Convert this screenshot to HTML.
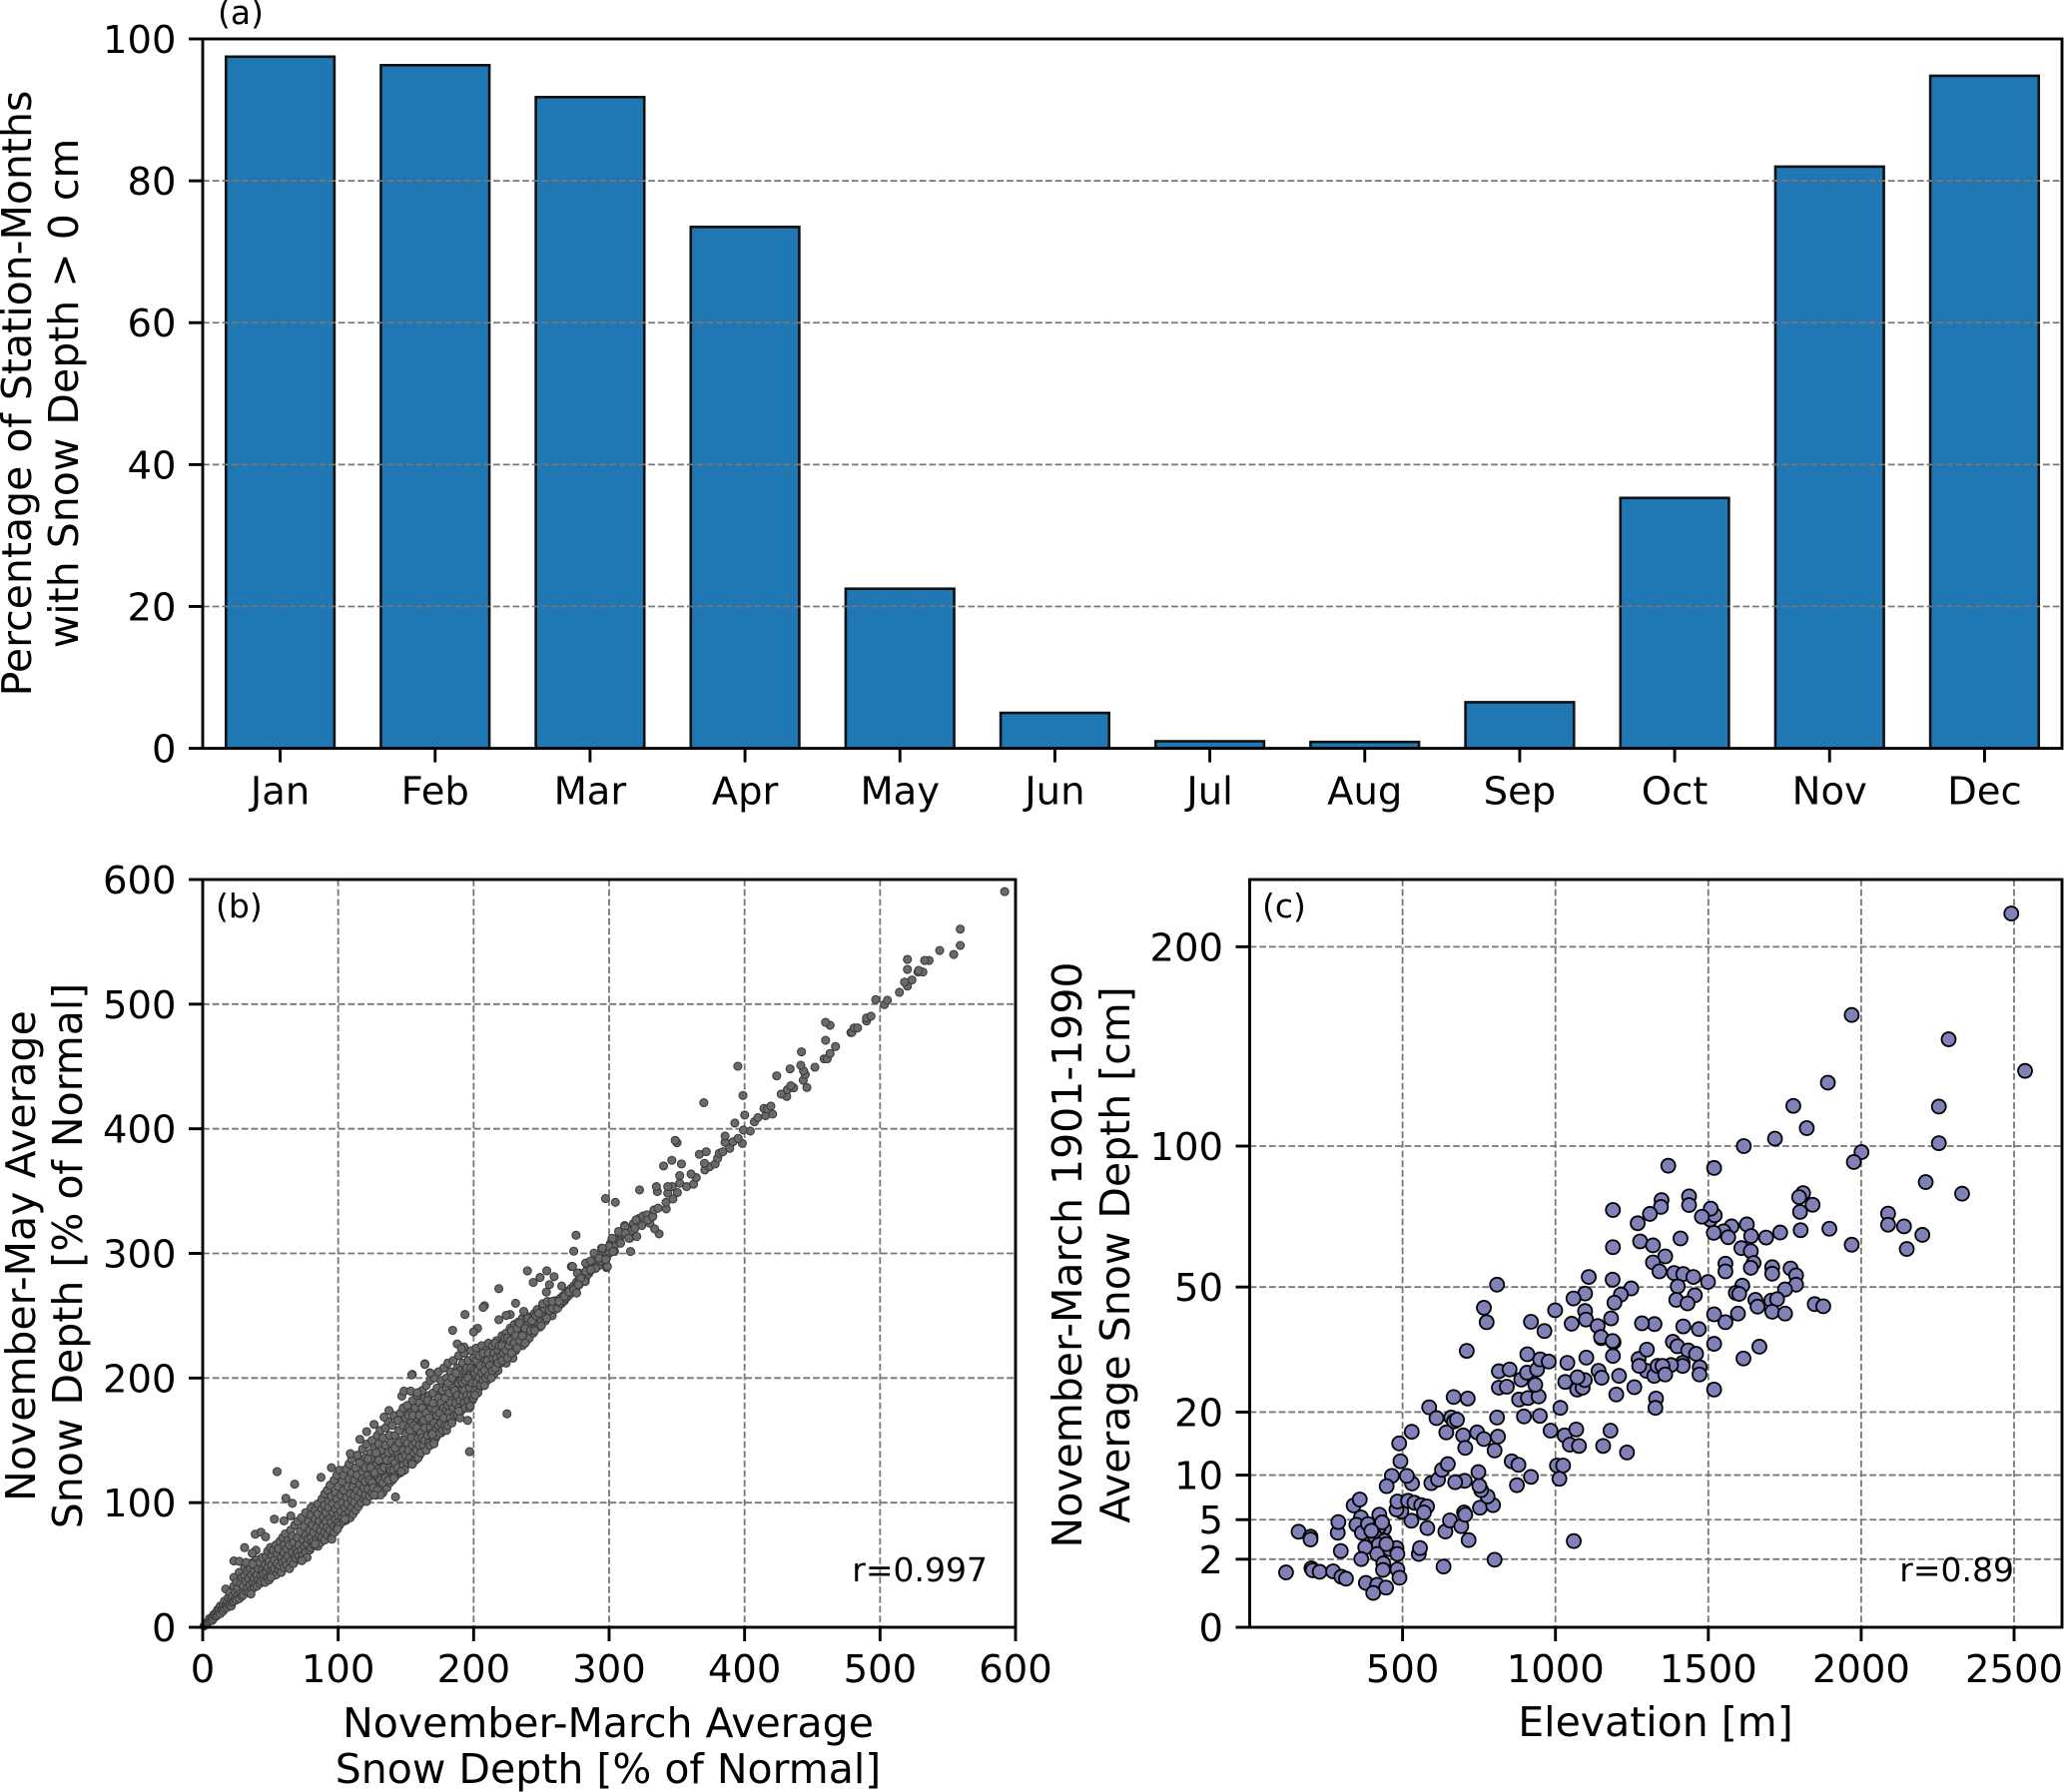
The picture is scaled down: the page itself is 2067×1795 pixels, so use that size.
<!DOCTYPE html>
<html lang="en">
<head>
<meta charset="utf-8">
<title>Snow depth statistics</title>
<style>
html,body{margin:0;padding:0;background:#fff}
svg{display:block}
text{font-family:"DejaVu Sans","Liberation Sans",sans-serif;fill:#000}
.axis-title{font-size:41px}
.tick-label{font-size:38.5px}
.note{font-size:33px}
</style>
</head>
<body>
<svg id="figure" xmlns="http://www.w3.org/2000/svg" width="2067" height="1795" viewBox="0 0 2067 1795">
<rect x="0" y="0" width="2067" height="1795" fill="#fff"/>
<g id="panelA"></g>
<g id="panelB"></g>
<g id="panelC"></g>
<text class="note" x="218" y="24">(a)</text>
<text class="note" x="216" y="919">(b)</text>
<text class="note" x="1264" y="919">(c)</text>
<text class="note" x="989" y="1584" text-anchor="end">r=0.997</text>
<text class="note" x="2017" y="1584" text-anchor="end">r=0.89</text>
<text class="axis-title" text-anchor="middle" transform="translate(31 394) rotate(-90)">Percentage of Station-Months</text>
<text class="axis-title" text-anchor="middle" transform="translate(78 394) rotate(-90)">with Snow Depth &gt; 0 cm</text>
<text class="axis-title" text-anchor="middle" transform="translate(35 1258) rotate(-90)">November-May Average</text>
<text class="axis-title" text-anchor="middle" transform="translate(82 1258) rotate(-90)">Snow Depth [% of Normal]</text>
<text class="axis-title" text-anchor="middle" x="609" y="1740">November-March Average</text>
<text class="axis-title" text-anchor="middle" x="609" y="1786">Snow Depth [% of Normal]</text>
<text class="axis-title" text-anchor="middle" transform="translate(1083 1257) rotate(-90)">November-March 1901-1990</text>
<text class="axis-title" text-anchor="middle" transform="translate(1131 1257) rotate(-90)">Average Snow Depth [cm]</text>
<text class="axis-title" text-anchor="middle" x="1658" y="1739">Elevation [m]</text>
</svg>
<script>
const monthLabels = ["Jan","Feb","Mar","Apr","May","Jun","Jul","Aug","Sep","Oct","Nov","Dec"];
const monthPercents = [97.5,96.3,91.8,73.5,22.5,5,1,0.9,6.5,35.3,82,94.8];
const panelAYTicks = [0,20,40,60,80,100];
const panelBTicks = [0,100,200,300,400,500,600];
const panelCXTicks = [500,1000,1500,2000,2500];
const panelCYTicks = [0,2,5,10,20,50,100,200];

const depthsNearOrigin = [[1,1],[2,2],[3,3.5],[4,4],[5,5],[5,7],[6,6],[7,8],[7,5.5],[8,10],[8,7],[9,9],[10,9],[10,12],[11,14],[11,10],[12,12],[12,15],[13,11],[13,17],[14,14],[15,13],[15,18],[16,15],[16,21],[17,17],[17,30.7],[18,16],[18,20],[19,24],[19,18],[20,19],[20,28],[21,17],[21,22],[22,25],[22,20],[23,33],[23,21],[23,40],[24,23],[24,28],[25,22],[25,36],[26,26],[26,31],[27,23],[27,44],[28,27],[28,35],[29,25],[29,40],[30,26],[30,33],[31,41],[31,48],[32,29],[32,37],[33,45],[33,31],[34,51],[34,28],[34,39],[35,34],[35,47],[36,30],[36,42],[37,36],[37,52],[38,32],[38,45],[38,39],[39,35],[39,50],[40,33],[40,42],[40,54]];
const depthsLow = [[41,38],[41,47],[42,35],[42,52],[43,41],[43,37],[44,46],[44,56],[45,39],[45,43],[46,36],[46,50],[47,44],[47,57],[48,40],[48,61],[48,48],[49,38],[49,53],[50,45],[50,42],[50,64],[51,50],[51,58],[52,44],[52,62],[53,47],[53,54],[54,42],[54,66],[55,51],[55,59],[56,46],[56,63],[57,49],[57,69],[58,56],[58,44],[59,52],[59,72],[60,48],[60,60],[60,66],[61,54],[61,75],[62,50],[62,63],[63,57],[63,70],[64,47],[64,66],[65,53],[65,78],[66,60],[66,73],[67,51],[67,68],[68,57],[68,82],[69,63],[69,55],[70,60],[70,72],[70,85],[71,57],[71,66],[72,77],[72,54],[73,62],[73,88],[74,70],[74,58],[75,81],[75,65],[76,60],[76,74],[76,92],[77,67],[77,56],[78,85],[78,71],[79,62],[79,78],[80,64],[80,90],[80,96],[80,72]];
const depthsMid = [[81,82],[81,68],[82,66],[82,76],[83,94],[83,87],[84,70],[84,80],[85,65],[85,99],[85,91],[86,74],[86,85],[87,78],[87,68],[88,103],[88,95],[88,72],[89,82],[89,88],[90,76],[90,107],[90,98],[90,70],[91,85],[91,92],[92,74],[92,80],[92,110],[93,101],[93,96],[94,78],[94,88],[94,114],[95,84],[95,72],[95,105],[96,92],[96,99],[97,81],[97,118],[97,76],[98,87],[98,108],[98,95],[99,79],[99,103],[99,122],[100,90],[100,84],[100,113],[100,98],[101,126],[101,82],[102,106],[102,93],[103,88],[103,117],[103,100],[104,85],[104,110],[104,122],[105,96],[105,90],[106,104],[106,127],[106,86],[107,113],[107,99],[108,93],[108,119],[108,131],[109,107],[109,88],[110,102],[110,124],[110,96],[110,135],[111,113],[111,91],[112,118],[112,106],[112,100],[113,128],[113,94],[114,110],[114,122],[114,138],[115,104],[115,97],[116,115],[116,132],[117,108],[117,100],[118,125],[118,119],[118,143],[119,112],[119,103],[120,136],[120,106],[120,128],[120,117]];
const depthsUpperMid = [[121,147],[121,101],[122,122],[122,111],[123,132],[123,105],[124,140],[124,116],[125,126],[125,108],[125,150],[126,120],[126,136],[127,112],[127,144],[128,130],[128,106],[128,123],[129,116],[129,154],[129,138],[130,110],[130,127],[130,147],[130,120],[131,134],[131,158],[132,114],[132,142],[133,125],[133,108],[133,152],[134,118],[134,136],[135,160],[135,130],[135,146],[136,112],[136,122],[137,140],[137,165],[137,127],[138,116],[138,154],[139,134],[139,120],[139,148],[140,162],[140,126],[140,142],[140,118],[141,136],[141,170],[142,122],[142,154],[143,146],[143,130],[144,166],[144,140],[145,125],[145,158],[146,172],[146,134],[146,150],[147,128],[147,144],[148,162],[148,176],[149,138],[149,132],[150,155],[150,168],[150,146],[150,130],[151,178],[151,140],[152,160],[152,134],[153,150],[153,172],[154,143],[154,165],[155,136],[155,182],[156,156],[156,148],[157,176],[157,140],[158,168],[158,186],[158,152],[159,144],[159,162],[160,180],[160,138],[160,157]];
const depthsHigh = [[161,172],[161,148],[162,190],[162,165],[163,142],[163,155],[164,184],[164,176],[165,150],[165,194],[165,162],[166,170],[166,146],[167,158],[167,186],[168,153],[168,178],[168,198],[169,166],[169,149],[170,188],[170,160],[170,172],[170,155],[171,200],[171,180],[172,152],[172,166],[173,192],[173,158],[174,176],[174,205],[175,163],[175,186],[176,156],[176,198],[177,170],[177,181],[178,160],[178,208],[179,192],[179,174],[180,165],[180,186],[180,200],[181,170],[181,212],[182,180],[182,164],[183,196],[183,205],[184,174],[184,188],[185,168],[185,214],[186,182],[186,200],[187,172],[187,193],[188,208],[188,177],[189,186],[189,218],[190,198],[190,174],[190,206],[191,182],[191,190],[192,212],[192,178],[193,200],[193,220],[194,186],[194,206],[195,180],[195,194],[196,214],[196,190],[197,183],[197,202],[198,222],[198,196],[199,208],[199,187],[200,200],[200,216],[200,190],[201,194],[202,224],[202,206],[203,198],[203,212],[204,192],[205,218],[205,203],[206,196],[206,226],[207,208],[208,200],[208,214],[209,222],[210,205],[210,198],[211,228],[211,212],[212,204],[213,218],[213,208],[214,226],[215,212],[215,203],[216,220],[217,210],[217,230],[218,206],[219,216],[220,224],[220,212],[221,234],[222,214],[222,228],[223,220],[224,236],[224,212],[225,226],[226,218],[227,240],[227,222],[228,232],[229,226],[229,216],[230,243],[230,236],[231,222],[232,230],[233,245],[233,226],[234,238],[235,232],[236,248],[236,226],[237,240],[238,234],[239,250],[239,230],[240,243],[240,236],[241,232],[242,248],[243,240],[244,236],[245,252],[245,244],[246,240],[247,255],[248,248],[248,243],[249,241],[250,253],[250,246],[251,258],[252,250],[253,246],[254,255],[255,250],[256,260],[257,254],[258,250],[259,258],[260,262],[260,255],[261,258],[262,262],[263,258],[264,264],[265,260],[266,266],[267,262],[268,268],[269,265],[270,270],[271,268],[272,272],[273,270],[274,274],[275,272],[276,277],[277,275],[278,279],[279,277],[280,282],[281,280],[282,284],[284,288],[285,284],[287,291],[289,294],[291,293],[293,298]];
const depthsBandInfillLower = [[122,135],[123,118],[124,128],[125,116],[126,112],[127,124],[128,140],[129,110],[130,134],[131,118],[132,126],[133,116],[134,128],[135,120],[136,134],[137,118],[138,128],[139,126],[140,134],[141,126],[142,132],[142,144],[143,122],[144,128],[145,136],[145,148],[146,124],[147,136],[148,130],[148,142],[149,150],[149,126],[150,138],[151,132],[151,148],[152,142],[152,170],[153,136],[153,158],[154,132],[154,152],[155,146],[155,170],[156,140],[156,162],[157,134],[157,148],[158,142],[158,160],[159,136],[159,152],[160,146],[160,170]];
const depthsBandInfillMiddle = [[161,140],[161,156],[162,152],[162,176],[163,146],[163,166],[164,150],[164,160],[165,142],[165,172],[166,154],[166,182],[167,148],[167,168],[168,146],[168,160],[169,156],[169,176],[170,152],[170,180],[171,164],[171,150],[172,174],[172,158],[173,154],[173,170],[174,162],[174,184],[175,156],[175,172],[176,164],[176,180],[177,158],[177,190],[178,168],[178,176],[179,162],[179,184],[180,158],[180,174],[180,192],[181,162],[181,178],[181,196],[182,172],[182,188],[183,168],[183,180],[184,164],[184,200],[185,176],[185,192],[186,170],[186,190],[187,180],[187,204],[188,170],[188,186],[189,176],[189,196],[190,182],[190,168],[191,198],[191,174],[192,186],[192,196],[193,180],[193,190],[194,176],[194,198],[195,186],[195,208],[196,182],[196,200],[197,192],[197,176],[198,186],[198,208],[199,182],[199,196],[200,184],[200,206]];
const depthsBandInfillUpper = [[201,190],[201,204],[202,196],[202,214],[203,188],[203,206],[204,200],[204,218],[205,194],[205,210],[206,204],[207,198],[207,220],[208,194],[208,206],[209,200],[209,212],[210,214],[211,202],[211,220],[212,210],[213,200],[214,206],[214,216],[215,220],[216,208],[216,228],[217,216],[218,222],[218,212],[219,226],[220,218],[221,214],[221,226],[222,220],[223,232],[224,222],[225,216],[225,232],[226,226],[227,230],[228,220],[228,238],[230,228],[231,234],[232,240],[232,224],[234,230],[234,244],[236,234],[238,240],[238,228],[240,248],[242,238],[243,246],[245,238],[246,250],[248,252],[250,242],[252,256],[254,248],[256,254],[258,256],[262,256],[264,260],[266,262],[268,264],[270,266],[272,268],[274,270],[276,273],[278,275],[280,278],[283,281],[286,286],[288,288],[290,291],[292,290],[294,294],[296,296],[298,300],[300,300],[301,308],[304,306],[306,312],[308,313],[310,318],[313,320],[316,318],[318,324],[322,328],[325,330],[328,331]];
const depthsUpperTail = [[298,296],[300,305.6],[294.5,304.2],[302.1,311.7],[304,301.6],[298.1,288.7],[288.7,287.7],[283.6,292.2],[277.8,284.2],[272.2,289.5],[282.4,277.5],[315.8,301.6],[307.7,309.6],[315.3,312.2],[312,316.2],[307.7,316.2],[311.5,322.4],[319.9,326.9],[320.4,313.6],[319.1,320.2],[324.2,322.4],[336.9,315.7],[333.6,319.7],[330.1,324.2],[328.5,326.9],[332.3,329.6],[333.1,334.9],[336.2,336.3],[342.2,335.7],[342,341],[347.1,343.7],[343.3,348.3],[350.4,348.8],[346.6,353.6],[343.3,353.6],[335.6,349.6],[334.9,353.6],[322.5,350.9],[352.1,356.3],[357.2,353.6],[362.3,355.5],[352.1,362.4],[364.3,360.8],[360.5,363.7],[353.4,371.8],[340.2,370.2],[346.3,374.7],[370.7,367],[374.2,369.6],[378.3,371.8],[370.4,372.3],[380.1,376.3],[381.3,380.3],[366.6,379.5],[371.7,381.6],[350.1,388.8],[348.8,390.7],[389,384.3],[383.9,381.6],[385.6,389.1],[385.6,394.2],[398.3,388.3],[391.5,389.6],[395.3,392.3],[399.1,399],[404.2,398.2],[407.2,405.6],[409.8,408.9],[415.6,410.5],[420.7,411.8],[414.3,416.3],[416.9,415.8],[419.4,418.2],[392.8,404.6],[400.1,411],[369.9,420.9],[398.8,426.7],[395,450.2],[431.1,425.9],[427,427.8],[431.6,431.3],[436.2,432.9],[434.1,434.5],[423.7,442.5],[433.6,448.1],[451.9,449.4],[446,433.1],[443.3,439],[444.8,443.5],[443.5,446.5],[441.5,451],[442,461.7],[458.7,456.1],[461,456.1],[463.1,460.4],[467.1,466],[459.8,471],[463.1,483],[459.8,485.4],[478.5,477.2],[479.3,477.4],[480.8,480.9],[483.4,480.9],[490,486.5],[490,488.9],[493.3,490.3],[496.8,503.6],[503.2,499.6],[505.4,503.1],[514.3,509.5],[520.2,514.5],[518.1,517.7],[523.5,519.4],[528,525.8],[531.6,525.8],[528.5,527.1],[536.2,535.1],[532.9,535.1],[520.2,527.9],[520.2,535.9],[544,543.1],[554.4,539.9],[559.2,547.1],[559.2,560.2],[592,590.3]];
const depthsOutliers = [[224.6,171.3],[197,140.9],[195.6,166],[197.4,177.5],[142.3,104.6],[54.9,124.9],[67.9,114.8],[61.4,103.5],[66.2,99.5],[87.3,120.3],[52.9,86.8],[38.8,74.7],[43,76.3],[46.4,72.6],[30.9,63.9],[39.3,61.8],[36.5,59.4],[23,53.2],[27,52.9],[32,52],[36.8,50.7],[95,128],[65,89.4],[60,85.4],[126.5,162.8],[121,157],[116,150.8],[109,139.3],[147,185.5],[148.6,189.5],[153.5,189.5],[158.4,188.2],[154.7,202.9],[164,211.4],[167.7,204.2],[133.9,168.7],[137.5,174],[131.4,106.2],[126.5,106.2],[105,86.8],[99.5,78.8],[95.3,70.7],[83,66.7],[73.2,53.4],[50.3,40],[35.6,26.7],[146.6,124.9],[141.2,119.6],[154.7,130.8],[170.7,147.3],[169.5,154.8],[189,173.5],[200.9,186.3],[297.4,344],[304.6,341],[275.6,314.6],[273.9,301.8],[239.7,286],[254,286],[249,280.7],[244,276.7],[259.4,281.3],[256,274.9],[253.7,269],[265,273.8],[218.6,271.7],[208,258],[207,256.7],[193.6,251],[218.6,246.8],[184.5,238.3],[202.9,239.9],[200,237],[187.9,227.4],[192.8,225],[191,223.6],[164,211],[154.3,202.5],[168,203.9],[231,260],[227,251],[224,250.3],[237,253.5],[251,259.6],[254.5,261.5],[258,261.5],[263,261.5],[267,265.5],[270.4,269],[274,270.9],[276,268.2],[273,289.5],[276.6,284.2],[282.7,292.2],[282,277.5],[286.4,294],[288.9,300.2],[290,288],[292.5,296.2],[295,304.2],[298.7,289.5],[297.5,295],[302.4,312.2],[302.9,301.5],[307,317.6],[308.5,308.2],[311.7,321.6],[312.2,316.2],[314.6,312.2],[279,280],[277.3,274.9],[282.7,285.5],[286.4,286.9]];

const stationsLowland = [[119,1.3],[160,3.94],[199,3.54],[199,3.33],[202,1.5],[206,1.4],[229,1.33],[273,1.35],[300,1.1],[315,1.02],[298,2.51],[288,3.86],[290,4.78],[340,6.41],[360,7.05],[364,5.21],[349,4.54],[367,3.86],[387,4.6],[424,5.47],[439,4.22],[422,4.31],[409,3.59],[441,3.23],[422,2.94],[378,2.76],[365,2.01],[417,2.32],[458,2.64],[480,2.71],[483,2.32],[437,1.76],[436,1.42],[483,1.45],[490,1.06],[380,0.85],[417,0.78],[446,0.68],[404,0.51],[447,2.99],[433,4.75],[398,4.02],[553,2.32],[557,2.71],[634,1.59],[801,1.97],[1060,3.21],[716,3.28],[581,4.25],[529,4.9],[496,5.79],[480,5.99],[483,6.83],[518,6.91],[539,6.69],[561,6.44],[580,6.3],[570,5.69],[640,3.96],[655,4.93],[692,4.41],[701,5.69],[705,5.47],[753,6.17],[796,6.44],[778,7.39],[757,8.12],[751,8.64],[748,10.4],[703,9.26],[672,9.09],[594,8.97],[616,9.42],[629,10.7],[648,11.5],[531,8.93],[514,9.9],[465,9.9],[448,8.6],[493,11.9],[489,14.6],[530,16.5]];
const stationsMidland = [[587,20.9],[611,18.9],[667,22.9],[713,22.6],[659,19],[668,18.3],[678,18.6],[643,16.4],[698,15.9],[705,13.9],[744,16.4],[766,15.3],[812,15.7],[801,13.5],[809,19],[857,11.9],[879,11.4],[920,9.77],[874,8.72],[1005,11.3],[1025,11.3],[1013,9.52],[984,16.7],[1030,15.9],[1047,14.4],[1077,14.2],[1068,16.9],[1156,14.2],[1180,16.7],[1234,13.2],[1016,20.8],[949,19.3],[897,19.2],[881,22.4],[910,22.7],[945,23],[934,25.4],[888,26.5],[907,28],[815,28.3],[850,28.7],[815,24.8],[841,25],[940,28.7],[950,31],[978,30.5],[908,32.2],[710,33],[1039,30.2],[1032,26],[1071,24.4],[1089,24.8],[1096,26.4],[1072,27],[1101,31.4],[1141,28.4],[1151,26.9],[1208,27.3],[1199,23.4],[1258,24.9],[1188,31.8],[1150,36.1],[1190,35.1],[1272,31.1],[1299,33.3],[1298,28.4],[1274,29.5],[1323,27.3],[1329,22.6],[1327,20.8],[1334,29.5],[1384,35.2],[1399,34.1],[1434,33.1],[1460,32.3],[1519,34.7],[1615,31.2],[1667,34],[1416,30.2],[1416,29.5],[1378,29.7],[1350,29.5],[1359,27.6],[1472,29.2],[1471,27.6],[1519,24.4]];
const stationsHighland = [[1822,107.6],[1718,103.1],[1616,100],[1369,92],[1519,91.1],[1810,81.4],[1797,79.9],[1841,77.1],[1800,74.5],[1802,68.1],[1896,68.6],[1735,67.3],[1689,65.6],[1626,70.1],[1640,66.1],[1576,69.4],[1550,67.7],[1565,65.7],[1518,67.2],[1506,71.8],[1521,73.3],[1508,75.7],[1479,72.8],[1437,80.2],[1437,77],[1347,78.8],[1345,76.3],[1309,73.8],[1269,70.5],[1188,75.2],[1188,62.4],[1277,64.3],[1319,63],[1409,65.3],[1359,59.4],[1319,57.5],[1340,54.7],[1388,54.2],[1418,53.9],[1451,53],[1499,51.5],[1400,50.2],[1456,47.6],[1395,46.3],[1432,45.3],[1556,57.1],[1556,54.7],[1608,62.1],[1639,61.1],[1648,57.3],[1639,55.8],[1709,56],[1709,54],[1769,55.6],[1787,53.5],[1787,50.7],[1751,49.3],[1611,50.4],[1590,48.3],[1601,48],[1654,46.3],[1661,44.4],[1706,46.1],[1725,46.5],[1709,43],[1751,42.5],[1597,42.5],[1556,40.2],[1519,42.3],[1469,38.4],[1418,39.1],[1324,39.7],[1283,39.9],[1848,45.1],[1876,44.5],[1248,49.6],[1214,47.8],[1193,45.5],[1187,52.2],[1109,53],[1097,48.1],[1059,46.7],[1097,43.2],[1100,40.9],[1053,39.8],[999,43.4],[1138,39.2],[1182,41.2],[1149,36.4],[1187,35.4],[809,50.7],[766,44.1],[775,40.2],[920,40.3],[964,37.9],[2491,220],[1969,161.9],[2286,149.3],[2536,133.7],[1891,128.1],[1778,117.4],[2254,117.1],[2254,101.2],[2001,97.5],[1976,93.5],[2211,85.6],[2330,81.2],[2088,73.9],[2088,70],[2140,69.4],[2200,66.5],[2149,61.8],[1969,63.2]];

const panelBPoints = [depthsNearOrigin,depthsLow,depthsMid,depthsUpperMid,depthsHigh,depthsBandInfillLower,depthsBandInfillMiddle,depthsBandInfillUpper,depthsUpperTail,depthsOutliers];
const panelCPoints = [stationsLowland,stationsMidland,stationsHighland];

const NS = 'http://www.w3.org/2000/svg';
const boxA = {left:203,right:2065,top:39,bottom:749.6};
const boxB = {left:203,right:1017,top:881,bottom:1630};
const boxC = {left:1251.5,right:2065,top:881,bottom:1630};
const INK = '#000';
const GRID = '#777';

function make(tag, parent, attrs){
  const el = document.createElementNS(NS, tag);
  for (const k in attrs) el.setAttribute(k, attrs[k]);
  parent.appendChild(el);
  return el;
}
function gridAttrs(x1,y1,x2,y2){
  return {x1:x1,y1:y1,x2:x2,y2:y2,stroke:GRID,'stroke-width':1.8,'stroke-dasharray':'6.8 2.9',fill:'none'};
}
function tickAttrs(x1,y1,x2,y2){
  return {x1:x1,y1:y1,x2:x2,y2:y2,stroke:INK,'stroke-width':2.9};
}
function drawFrame(parent, box, name){
  const frame = make('rect', parent, {x:box.left,y:box.top,width:box.right-box.left,height:box.bottom-box.top,fill:'none',stroke:INK,'stroke-width':2.9});
  
  
}
function yTick(parent, box, py, label, name){
  const mark = make('line', parent, tickAttrs(box.left-14,py,box.left,py));
  
  
  const txt = make('text', parent, {x:box.left-26.5,y:py+14,'text-anchor':'end','class':'tick-label'});
  txt.textContent = label;
  
  
}
function xTick(parent, box, px, label, name, baseline){
  const mark = make('line', parent, tickAttrs(px,box.bottom,px,box.bottom+14));
  
  
  const txt = make('text', parent, {x:px,y:baseline,'text-anchor':'middle','class':'tick-label'});
  txt.textContent = label;
  
  
}
function hGrid(parent, box, py, name){
  const g = make('line', parent, gridAttrs(box.left,py,box.right,py));
  
  
}
function vGrid(parent, box, px, name){
  const g = make('line', parent, gridAttrs(px,box.top,px,box.bottom));
  
  
}

/* Panel (a) */
const xA = i => boxA.left + (i + 0.5) * (boxA.right - boxA.left) / monthLabels.length;
const yA = v => boxA.bottom - v * (boxA.bottom - boxA.top) / 100;
const barStep = (boxA.right - boxA.left) / monthLabels.length;
const gA = document.getElementById('panelA');
monthPercents.forEach((v, i) => {
  const bar = make('rect', gA, {x:xA(i)-0.35*barStep,y:yA(v),width:0.7*barStep,height:yA(0)-yA(v),fill:'#1f77b4',stroke:'#111','stroke-width':2.6});
  
  
});
panelAYTicks.forEach(t => {
  if (t > 0 && t < 100) hGrid(gA, boxA, yA(t), 'panel-a');
});
drawFrame(gA, boxA, 'panel-a');
panelAYTicks.forEach(t => yTick(gA, boxA, yA(t), String(t), 'panel-a'));
monthLabels.forEach((m, i) => xTick(gA, boxA, xA(i), m, 'panel-a', 805.5));

/* Panel (b) */
const xB = v => boxB.left + v * (boxB.right - boxB.left) / 600;
const yB = v => boxB.bottom - v * (boxB.bottom - boxB.top) / 600;
const gB = document.getElementById('panelB');
panelBTicks.forEach(t => {
  if (t > 0 && t < 600) {
    hGrid(gB, boxB, yB(t), 'panel-b');
    vGrid(gB, boxB, xB(t), 'panel-b');
  }
});
panelBPoints.forEach(group => group.forEach(p => {
  const dot = make('circle', gB, {cx:xB(p[0]),cy:yB(p[1]),r:4,fill:'#6a6a6a',stroke:'#3c3c3c','stroke-width':1.1});
  
  
}));
drawFrame(gB, boxB, 'panel-b');
panelBTicks.forEach(t => {
  yTick(gB, boxB, yB(t), String(t), 'panel-b');
  xTick(gB, boxB, xB(t), String(t), 'panel-b', 1685);
});

/* Panel (c): square-root y axis */
const xC = v => boxC.left + v * 0.3062;
const yC = v => boxC.bottom - 48.2 * Math.sqrt(v);
const gC = document.getElementById('panelC');
panelCYTicks.forEach(t => {
  if (t > 0) hGrid(gC, boxC, yC(t), 'panel-c');
});
panelCXTicks.forEach(t => vGrid(gC, boxC, xC(t), 'panel-c'));
panelCPoints.forEach(group => group.forEach(p => {
  const dot = make('circle', gC, {cx:xC(p[0]),cy:yC(p[1]),r:7,fill:'#8181b9',stroke:'#000','stroke-width':1.8});
  
  
}));
drawFrame(gC, boxC, 'panel-c');
panelCYTicks.forEach(t => yTick(gC, boxC, yC(t), String(t), 'panel-c'));
panelCXTicks.forEach(t => xTick(gC, boxC, xC(t), String(t), 'panel-c', 1685));
</script>
</body>
</html>
